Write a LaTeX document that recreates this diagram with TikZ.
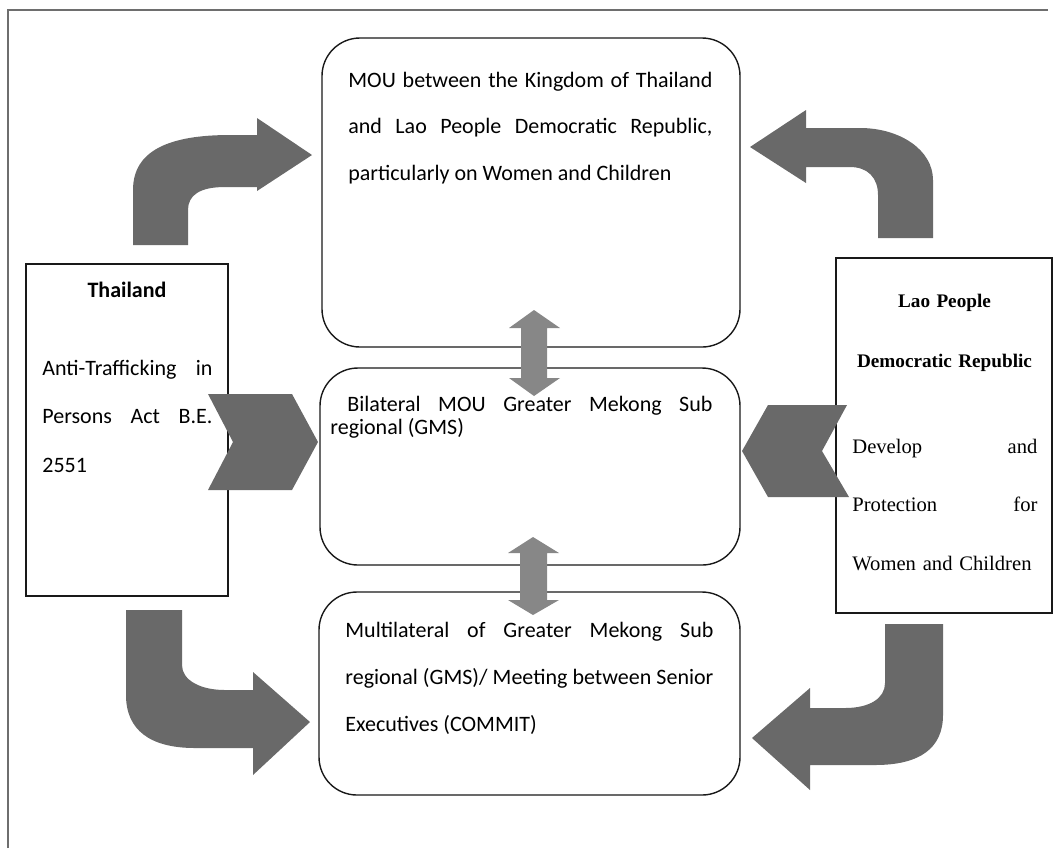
\documentclass[tikz,border=0pt]{standalone}
\usepackage{fontspec}
\setmainfont{Carlito}
\newfontfamily\laofont{Liberation Serif}
\usetikzlibrary{positioning, calc}
\definecolor{boxline}{RGB}{25, 25, 25}
\definecolor{arrowfill}{RGB}{105, 105, 105}
\definecolor{dblfill}{RGB}{135, 135, 135}
\definecolor{frameline}{RGB}{110, 110, 110}

\begin{document}
\begin{tikzpicture}[x=0.5pt, y=-0.5pt, every node/.style={font=\fontsize{11}{13.5}\selectfont, inner sep=0pt}]
    \tikzstyle{roundbox} = [draw=boxline, rectangle, rounded corners=19pt, line width=0.7pt]
    \tikzstyle{plainbox} = [draw=boxline, rectangle, line width=0.7pt]
    \tikzstyle{bodytext} = [anchor=base west, align=justify]
    \tikzstyle{blockarrow} = [fill=arrowfill]
    \tikzstyle{twoway} = [fill=dblfill]

    \useasboundingbox (0,0) rectangle (1059,848);
    \draw [frameline, line width=0.6pt] (8,848) -- (8,10) -- (1048,10);

    % Boxes
    \node (mou) [roundbox, minimum width=209pt, minimum height=154.5pt] at (531,192.5) {};
    \node (bilateral) [roundbox, minimum width=210pt, minimum height=98.5pt] at (530,466.5) {};
    \node (multi) [roundbox, minimum width=210.5pt, minimum height=101.5pt] at (529.5,693.5) {};
    \node (thai) [plainbox, minimum width=101pt, minimum height=166pt] at (127,430) {};
    \node (lao) [plainbox, minimum width=108pt, minimum height=177.5pt] at (944,435.5) {};

    % Texts
    \node (moutext) [bodytext, text width=182pt, font=\fontsize{11}{23.25}\selectfont\sloppy] at (348,87)
        {MOU between the Kingdom of Thailand\linebreak and Lao People Democratic Republic,\linebreak particularly on Women and Children};
    \node (bilateraltext) [bodytext, text width=191pt, font=\fontsize{11}{11.5}\selectfont\sloppy] at (330,411)
        {\hspace*{8.5pt}Bilateral MOU Greater Mekong Sub\linebreak regional (GMS)};
    \node (multitext) [bodytext, text width=184pt, font=\fontsize{11}{23.5}\selectfont\sloppy] at (345,637)
        {Multilateral of Greater Mekong Sub\linebreak regional (GMS)/ Meeting between Senior\linebreak Executives (COMMIT)};
    \node (thaititle) [anchor=base, font=\fontsize{11}{13.5}\selectfont\bfseries] at (127,297) {Thailand};
    \node (thaitext) [bodytext, text width=85pt, font=\fontsize{11}{24.25}\selectfont\sloppy] at (42,375)
        {Anti-Trafficking in\linebreak Persons Act B.E.\linebreak 2551};
    \node (laotitle) [anchor=base, text width=100pt, align=center, font=\laofont\fontsize{9.6}{30}\selectfont\bfseries] at (944.5,307)
        {Lao People\\Democratic Republic};
    \node (laotext) [anchor=base west, text width=92.5pt, align=left, font=\laofont\fontsize{10.3}{29.25}\selectfont] at (852,453)
        {Develop\hfill and\\Protection\hfill for\\Women and Children};

    % Bent arrows
    \fill [blockarrow] (133,245) -- (133,190) .. controls (133,150) and (170,135) .. (230,135) -- (257,135) -- (257,118) -- (312,155)
        -- (257,191) -- (257,187) -- (225,187) .. controls (200,187) and (188,195) .. (188,210) -- (188,245) -- cycle;
    \fill [blockarrow] (933,238) -- (933,180) .. controls (933,150) and (900,128) .. (860,128) -- (806,128) -- (806,110) -- (750,147)
        -- (806,183) -- (806,167) -- (850,167) .. controls (868,167) and (878,178) .. (878,195) -- (878,238) -- cycle;
    \fill [blockarrow] (126,610) -- (126,695) .. controls (126,730) and (150,748) .. (195,748) -- (253,748) -- (253,775) -- (310,722)
        -- (253,672) -- (253,690) -- (225,690) .. controls (200,690) and (182,680) .. (182,665) -- (182,610) -- cycle;
    \fill [blockarrow] (943,624) -- (943,715) .. controls (943,748) and (920,765) .. (875,765) -- (810,765) -- (810,790) -- (752,738)
        -- (810,688) -- (810,708) -- (845,708) .. controls (870,708) and (885,698) .. (885,683) -- (885,624) -- cycle;

    % Chevrons
    \fill [blockarrow] (208,394) -- (292,394) -- (318,442) -- (292,490) -- (208,490) -- (233,442) -- cycle;
    \fill [blockarrow] (847,405) -- (768,405) -- (742,451) -- (768,497) -- (849,497) -- (822,451) -- cycle;

    % Two-way arrows
    \fill [twoway] (534,310) -- (560,328) -- (547,328) -- (547,378) -- (560,378) -- (534,396) -- (509,378) -- (521,378)
        -- (521,328) -- (509,328) -- cycle;
    \fill [twoway] (533,537) -- (559,553) -- (547,553) -- (547,600) -- (559,600) -- (533,615) -- (508,600) -- (520,600)
        -- (520,553) -- (508,553) -- cycle;
\end{tikzpicture}
\end{document}
